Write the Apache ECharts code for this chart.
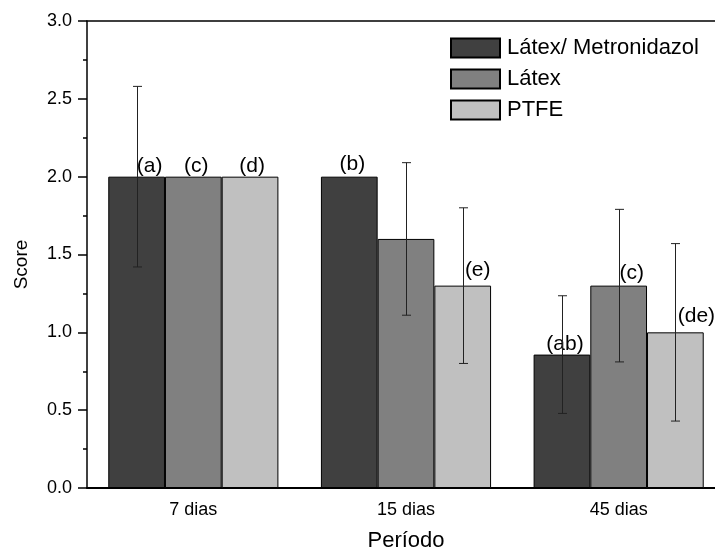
<!DOCTYPE html>
<html>
<head>
<meta charset="utf-8">
<script src="https://cdn.jsdelivr.net/npm/echarts@6/dist/echarts.min.js"></script>
<style>html,body{margin:0;padding:0;background:#fff}#c{width:715px;height:556px}</style>
</head>
<body>
<div id="c"></div>
<script>
// ---- data ----
const categories = ['7 dias', '15 dias', '45 dias'];
const seriesNames = ['Látex/ Metronidazol', 'Látex', 'PTFE'];
const meanMetro = [2.0, 2.0, 0.857];
const meanLatex = [2.0, 1.6, 1.3];
const meanPTFE  = [2.0, 1.3, 1.0];
const sdMetro = [0.58, 0, 0.378];
const sdLatex = [0, 0.49, 0.49];
const sdPTFE  = [0, 0.5, 0.57];
const lettersMetro = ['(a)', '(b)', '(ab)'];
const lettersLatex = ['(c)', '', '(c)'];
const lettersPTFE  = ['(d)', '(e)', '(de)'];
const yTicks = [0, 0.5, 1.0, 1.5, 2.0, 2.5, 3.0];

// ---- style ----
const colors = ['#404040', '#808080', '#c0c0c0'];
const labelOffsets = [
  [[13, 0], [3, -2], [3, 0]],
  [[3, 0], [0, 0], [13, -2]],
  [[2, 0], [15, -5], [21, -6]]
];
const FONT = '"Liberation Sans", Arial, sans-serif';

const means = [meanMetro, meanLatex, meanPTFE];
const sds = [sdMetro, sdLatex, sdPTFE];
const letters = [lettersMetro, lettersLatex, lettersPTFE];

const barSeries = means.map((m, s) => ({
  name: seriesNames[s],
  type: 'bar',
  xAxisIndex: 0,
  barGap: '0%',
  barCategoryGap: '20%',
  itemStyle: { color: colors[s], borderColor: '#000', borderWidth: 1 },
  data: m.map((v, i) => ({
    value: v,
    label: {
      show: letters[s][i] !== '',
      formatter: letters[s][i],
      position: 'top',
      distance: 0,
      offset: labelOffsets[s][i],
      fontSize: 21,
      fontFamily: FONT,
      color: '#000'
    }
  }))
}));

const errData = [];
means.forEach((m, s) => m.forEach((v, i) => {
  if (sds[s][i] > 0) errData.push([i, s, v - sds[s][i], v + sds[s][i]]);
}));

const errSeries = {
  type: 'custom',
  xAxisIndex: 0,
  z: 5,
  silent: true,
  data: errData,
  encode: { x: 0, y: [2, 3] },
  renderItem: function (params, api) {
    const cat = api.value(0), s = api.value(1);
    const lo = api.coord([cat, api.value(2)]);
    const hi = api.coord([cat, api.value(3)]);
    const band = api.size([1, 0])[0];
    const bw = band * 0.8 / 3;
    const x = Math.round(lo[0] + (s - 1) * bw) + 0.5;
    const cap = 4.5;
    const st = { stroke: '#222', lineWidth: 1 };
    return {
      type: 'group',
      children: [
        { type: 'line', shape: { x1: x, y1: hi[1], x2: x, y2: lo[1] }, style: st },
        { type: 'line', shape: { x1: x - cap, y1: hi[1], x2: x + cap, y2: hi[1] }, style: st },
        { type: 'line', shape: { x1: x - cap, y1: lo[1], x2: x + cap, y2: lo[1] }, style: st }
      ]
    };
  }
};

const chart = echarts.init(document.getElementById('c'), null, { renderer: 'canvas' });
chart.setOption({
  animation: false,
  backgroundColor: '#fff',
  textStyle: { fontFamily: FONT },
  grid: { left: 87, top: 21, width: 638, height: 467, containLabel: false, outerBoundsMode: 'none' },
  legend: {
    orient: 'vertical',
    left: 450,
    top: 37,
    padding: 0,
    align: 'left',
    icon: 'rect',
    itemWidth: 49,
    itemHeight: 19,
    itemGap: 9,
    data: seriesNames,
    textStyle: { fontSize: 22, fontFamily: FONT, color: '#000', lineHeight: 19, padding: [0, 0, 0, 2] }
  },
  xAxis: [
    {
      type: 'category',
      data: categories,
      position: 'bottom',
      name: 'Período',
      nameLocation: 'middle',
      nameGap: 42,
      nameTextStyle: { fontSize: 22, fontFamily: FONT, color: '#000' },
      axisLine: { lineStyle: { color: '#000', width: 2 } },
      axisTick: { alignWithLabel: true, length: 8, lineStyle: { color: '#000', width: 2 } },
      axisLabel: { fontSize: 18, fontFamily: FONT, color: '#000', margin: 13 },
      splitLine: { show: false }
    },
    {
      type: 'category',
      data: categories,
      position: 'bottom',
      axisLine: { show: false },
      axisTick: { alignWithLabel: false, length: 4, lineStyle: { color: '#000', width: 1.5 } },
      axisLabel: { show: false },
      splitLine: { show: false }
    },
    {
      type: 'category',
      data: categories,
      position: 'top',
      axisLine: { lineStyle: { color: '#000', width: 1.5 } },
      axisTick: { alignWithLabel: false, inside: true, length: 3, lineStyle: { color: '#000', width: 1 } },
      axisLabel: { show: false },
      splitLine: { show: false }
    },
    {
      type: 'category',
      data: categories,
      position: 'top',
      axisLine: { show: false },
      axisTick: { alignWithLabel: true, inside: true, length: 3, lineStyle: { color: '#000', width: 1 } },
      axisLabel: { show: false },
      splitLine: { show: false }
    }
  ],
  yAxis: {
    type: 'value',
    min: yTicks[0],
    max: yTicks[yTicks.length - 1],
    interval: 0.5,
    name: 'Score',
    nameLocation: 'middle',
    nameGap: 56,
    nameTextStyle: { fontSize: 19, fontFamily: FONT, color: '#000', padding: [0, 20, 0, 0] },
    axisLine: { show: true, lineStyle: { color: '#000', width: 1.5 } },
    axisTick: { show: true, length: 9, lineStyle: { color: '#000', width: 1.5 } },
    minorTick: { show: true, splitNumber: 2, length: 4, lineStyle: { color: '#000', width: 1.5 } },
    axisLabel: { fontSize: 18, fontFamily: FONT, color: '#000', margin: 15, formatter: v => v.toFixed(1) },
    splitLine: { show: false }
  },
  series: barSeries.concat([errSeries])
});
</script>
</body>
</html>
